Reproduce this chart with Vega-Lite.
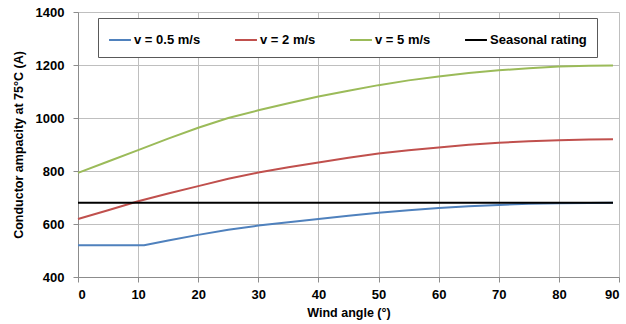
{
  "$schema": "https://vega.github.io/schema/vega-lite/v6.json",
  "width": 541,
  "height": 265,
  "autosize": {"type": "none"},
  "padding": {"left": 78, "top": 12, "right": 7, "bottom": 47},
  "background": "white",
  "config": {
    "view": {"stroke": null},
    "font": "Liberation Sans",
    "axis": {
      "labelFont": "Liberation Sans",
      "labelFontWeight": "bold",
      "labelFontSize": 13,
      "labelColor": "#000000",
      "titleFont": "Liberation Sans",
      "titleFontWeight": "bold",
      "titleFontSize": 12.5,
      "titleColor": "#000000",
      "gridColor": "#BFBFBF",
      "gridWidth": 1,
      "domainColor": "#8C8C8C",
      "tickColor": "#8C8C8C",
      "tickSize": 5
    }
  },
  "data": {
    "values": [
      {"angle": 0, "amp": 520, "series": "v = 0.5 m/s"},
      {"angle": 5, "amp": 520, "series": "v = 0.5 m/s"},
      {"angle": 11, "amp": 520, "series": "v = 0.5 m/s"},
      {"angle": 15, "amp": 538, "series": "v = 0.5 m/s"},
      {"angle": 20, "amp": 559, "series": "v = 0.5 m/s"},
      {"angle": 25, "amp": 578, "series": "v = 0.5 m/s"},
      {"angle": 30, "amp": 594, "series": "v = 0.5 m/s"},
      {"angle": 35, "amp": 607, "series": "v = 0.5 m/s"},
      {"angle": 40, "amp": 619, "series": "v = 0.5 m/s"},
      {"angle": 45, "amp": 631, "series": "v = 0.5 m/s"},
      {"angle": 50, "amp": 642, "series": "v = 0.5 m/s"},
      {"angle": 55, "amp": 652, "series": "v = 0.5 m/s"},
      {"angle": 60, "amp": 660, "series": "v = 0.5 m/s"},
      {"angle": 65, "amp": 667, "series": "v = 0.5 m/s"},
      {"angle": 70, "amp": 672, "series": "v = 0.5 m/s"},
      {"angle": 75, "amp": 676, "series": "v = 0.5 m/s"},
      {"angle": 80, "amp": 678, "series": "v = 0.5 m/s"},
      {"angle": 85, "amp": 679, "series": "v = 0.5 m/s"},
      {"angle": 89, "amp": 680, "series": "v = 0.5 m/s"},
      {"angle": 0, "amp": 619, "series": "v = 2 m/s"},
      {"angle": 5, "amp": 652, "series": "v = 2 m/s"},
      {"angle": 10, "amp": 686, "series": "v = 2 m/s"},
      {"angle": 15, "amp": 715, "series": "v = 2 m/s"},
      {"angle": 20, "amp": 743, "series": "v = 2 m/s"},
      {"angle": 25, "amp": 771, "series": "v = 2 m/s"},
      {"angle": 30, "amp": 794, "series": "v = 2 m/s"},
      {"angle": 35, "amp": 814, "series": "v = 2 m/s"},
      {"angle": 40, "amp": 832, "series": "v = 2 m/s"},
      {"angle": 45, "amp": 850, "series": "v = 2 m/s"},
      {"angle": 50, "amp": 866, "series": "v = 2 m/s"},
      {"angle": 55, "amp": 878, "series": "v = 2 m/s"},
      {"angle": 60, "amp": 889, "series": "v = 2 m/s"},
      {"angle": 65, "amp": 899, "series": "v = 2 m/s"},
      {"angle": 70, "amp": 907, "series": "v = 2 m/s"},
      {"angle": 75, "amp": 912, "series": "v = 2 m/s"},
      {"angle": 80, "amp": 916, "series": "v = 2 m/s"},
      {"angle": 85, "amp": 919, "series": "v = 2 m/s"},
      {"angle": 89, "amp": 920, "series": "v = 2 m/s"},
      {"angle": 0, "amp": 793, "series": "v = 5 m/s"},
      {"angle": 5, "amp": 836, "series": "v = 5 m/s"},
      {"angle": 10, "amp": 879, "series": "v = 5 m/s"},
      {"angle": 15, "amp": 922, "series": "v = 5 m/s"},
      {"angle": 20, "amp": 963, "series": "v = 5 m/s"},
      {"angle": 25, "amp": 1000, "series": "v = 5 m/s"},
      {"angle": 30, "amp": 1029, "series": "v = 5 m/s"},
      {"angle": 35, "amp": 1056, "series": "v = 5 m/s"},
      {"angle": 40, "amp": 1081, "series": "v = 5 m/s"},
      {"angle": 45, "amp": 1103, "series": "v = 5 m/s"},
      {"angle": 50, "amp": 1124, "series": "v = 5 m/s"},
      {"angle": 55, "amp": 1142, "series": "v = 5 m/s"},
      {"angle": 60, "amp": 1157, "series": "v = 5 m/s"},
      {"angle": 65, "amp": 1170, "series": "v = 5 m/s"},
      {"angle": 70, "amp": 1180, "series": "v = 5 m/s"},
      {"angle": 75, "amp": 1188, "series": "v = 5 m/s"},
      {"angle": 80, "amp": 1194, "series": "v = 5 m/s"},
      {"angle": 85, "amp": 1197, "series": "v = 5 m/s"},
      {"angle": 89, "amp": 1198, "series": "v = 5 m/s"},
      {"angle": 0, "amp": 680, "series": "Seasonal rating"},
      {"angle": 89, "amp": 680, "series": "Seasonal rating"}
    ]
  },
  "mark": {"type": "line", "strokeWidth": 2},
  "encoding": {
    "x": {
      "field": "angle",
      "type": "quantitative",
      "title": "Wind angle (°)",
      "scale": {"domain": [0, 90], "nice": false},
      "axis": {"values": [0, 10, 20, 30, 40, 50, 60, 70, 80, 90], "labelPadding": 6, "titlePadding": 5}
    },
    "y": {
      "field": "amp",
      "type": "quantitative",
      "title": "Conductor ampacity at 75°C (A)",
      "scale": {"domain": [400, 1400], "nice": false, "zero": false},
      "axis": {"values": [400, 600, 800, 1000, 1200, 1400], "format": "d", "labelPadding": 9, "titlePadding": 10}
    },
    "color": {
      "field": "series",
      "type": "nominal",
      "scale": {
        "domain": ["v = 0.5 m/s", "v = 2 m/s", "v = 5 m/s", "Seasonal rating"],
        "range": ["#4F81BD", "#C0504D", "#9BBB59", "#000000"]
      },
      "legend": {
        "title": null,
        "orient": "none",
        "legendX": 20,
        "legendY": 6,
        "direction": "horizontal",
        "columns": 4,
        "columnPadding": 30,
        "symbolType": "stroke",
        "symbolSize": 480,
        "symbolStrokeWidth": 2,
        "labelFont": "Liberation Sans",
        "labelFontWeight": "bold",
        "labelFontSize": 13,
        "labelColor": "#000000",
        "labelOffset": 2,
        "strokeColor": "#595959",
        "fillColor": "white",
        "padding": 10,
        "labelLimit": 200
      }
    },
    "order": {"field": "angle", "type": "quantitative"}
  }
}
